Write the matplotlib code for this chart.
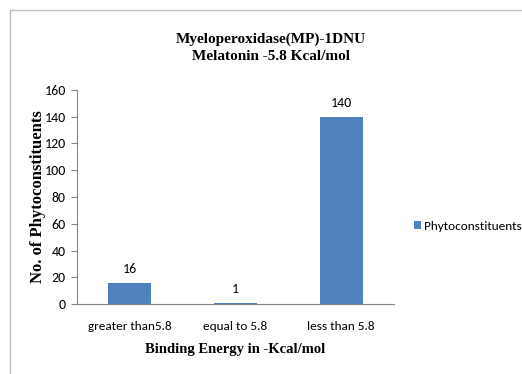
import matplotlib
matplotlib.use("Agg")
import matplotlib.pyplot as plt
from matplotlib.lines import Line2D

categories = ["greater than5.8", "equal to 5.8", "less than 5.8"]
values = [16, 1, 140]
series_name = "Phytoconstituents"
yticks = [0, 20, 40, 60, 80, 100, 120, 140, 160]

W, H = 522, 374
fig = plt.figure(figsize=(W / 100, H / 100), dpi=100)
ax = fig.add_axes([77 / W, 1 - 304 / H, (394 - 77) / W, (304 - 90) / H])

sans = ["Carlito", "Liberation Sans", "DejaVu Sans"]
serif = ["Liberation Serif", "DejaVu Serif"]
fs_small = 9.5

x = list(range(len(categories)))
bars = ax.bar(x, values, width=0.41, color="#4F81BD", label=series_name, zorder=2)
for xi, v in zip(x, values):
    ax.text(xi, v + 6, str(v), ha="center", va="bottom", fontsize=fs_small + 0.5, family=sans)

ax.set_xlim(-0.5, 2.5)
ax.set_ylim(0, 160)
ax.set_yticks(yticks)
ax.set_yticklabels([str(t) for t in yticks], family=sans, fontsize=fs_small + 0.5)
ax.set_xticks(x)
ax.set_xticklabels(categories, family=sans, fontsize=fs_small)
ax.tick_params(axis="x", length=0, pad=12)
ax.tick_params(axis="y", length=4, direction="out", color="#868686", pad=4)
for s in ["top", "right"]:
    ax.spines[s].set_visible(False)
for s in ["left", "bottom"]:
    ax.spines[s].set_color("#868686")
    ax.spines[s].set_linewidth(0.8)

ax.set_xlabel("Binding Energy in -Kcal/mol", family=serif, fontweight="bold",
              fontsize=10.5, labelpad=8)
ax.set_ylabel("No. of Phytoconstituents", family=serif, fontweight="bold",
              fontsize=12, labelpad=-1)

fig.text(271 / W, 1 - 48 / H, "Myeloperoxidase(MP)-1DNU\nMelatonin -5.8 Kcal/mol",
         ha="center", va="center", family=serif, fontweight="bold", fontsize=11,
         linespacing=1.35)

leg = fig.legend(handles=[bars], labels=[series_name], loc="center left",
                 bbox_to_anchor=(402 / W, 1 - 226 / H), frameon=False,
                 prop={"family": sans, "size": fs_small}, handlelength=0.55,
                 handleheight=0.55, handletextpad=0.25)

# outer chart frame
fig.add_artist(Line2D([10 / W, 1], [1 - 10 / H, 1 - 10 / H], color="#bfbfbf", lw=1,
                      transform=fig.transFigure))
fig.add_artist(Line2D([10 / W, 10 / W], [0, 1 - 10 / H], color="#bfbfbf", lw=1,
                      transform=fig.transFigure))

fig.savefig("out.png", dpi=100)
